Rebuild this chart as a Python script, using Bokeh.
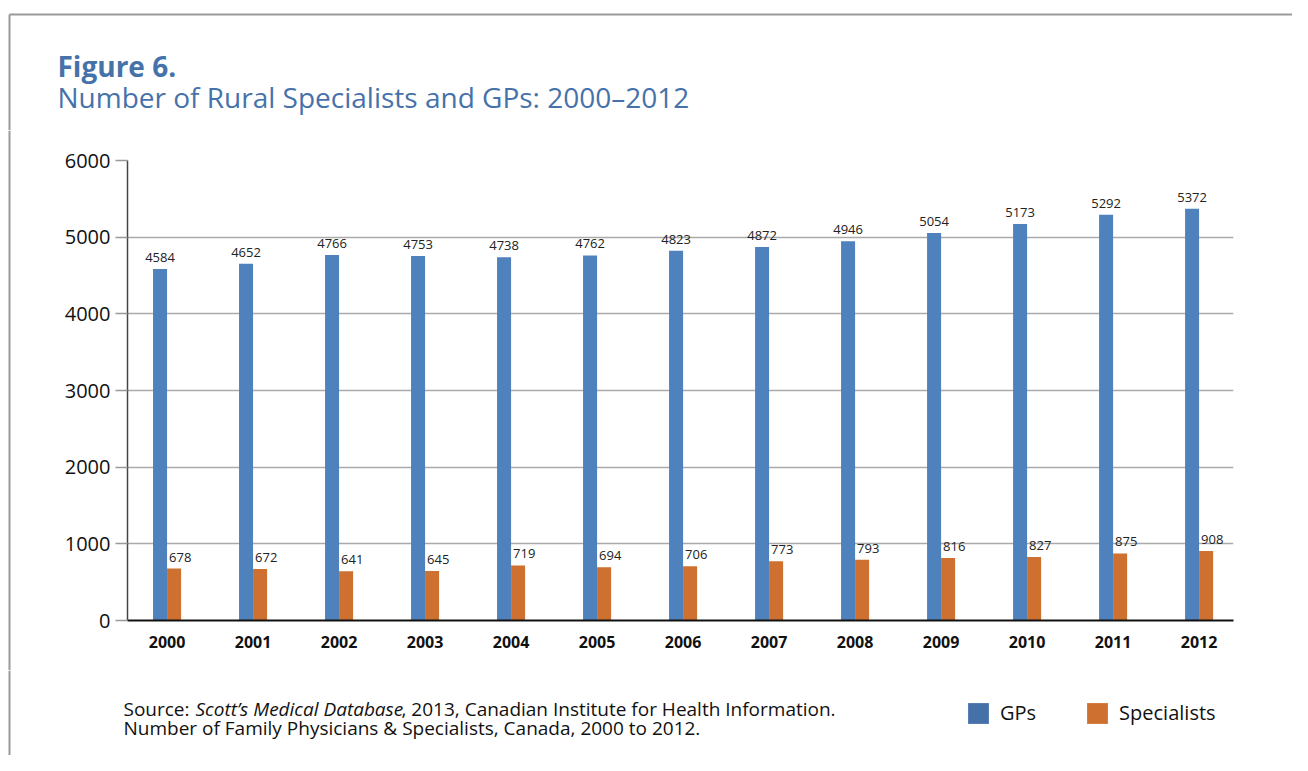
from bokeh.plotting import figure
from bokeh.models import ColumnDataSource, Range1d, FixedTicker, Label, Legend, LegendItem
from bokeh.layouts import column, row
from bokeh.transform import dodge
from bokeh.embed import file_html
from bokeh.resources import INLINE
from bokeh.core.properties import value

# ---- data ----
years = ["2000", "2001", "2002", "2003", "2004", "2005", "2006",
         "2007", "2008", "2009", "2010", "2011", "2012"]
gps = [4584, 4652, 4766, 4753, 4738, 4762, 4823, 4872, 4946, 5054, 5173, 5292, 5372]
specialists = [678, 672, 641, 645, 719, 694, 706, 773, 793, 816, 827, 875, 908]
y_ticks = [0, 1000, 2000, 3000, 4000, 5000, 6000]
series_names = ["GPs", "Specialists"]

FONT = "Open Sans"
BLUE = "#4f81bd"
ORANGE = "#cd7030"
LEG_BLUE = "#4571a8"
TITLE_BLUE = "#4672aa"
BORDER = "#9a9a9a"
BW = 0.163
W = 1292
H_HEAD, H_MAIN, H_FOOT = 130, 540, 85
STRIP_W = 47


def blank(width, height):
    f = figure(width=width, height=height, output_backend="svg", toolbar_location=None,
               x_range=Range1d(0, width), y_range=Range1d(height, 0),
               x_axis_type=None, y_axis_type=None,
               min_border_left=0, min_border_right=0, min_border_top=0, min_border_bottom=0)
    f.grid.visible = False
    f.outline_line_color = None
    f.background_fill_color = "white"
    f.border_fill_color = "white"
    return f


def lab(f, x, y, text, size, style="normal", color="#111111"):
    f.add_layout(Label(x=x, y=y, text=text, text_font=FONT, text_font_size=size,
                       text_font_style=style, text_color=color,
                       text_baseline="middle", text_align="left"))


# ---- header ----
head = blank(W, H_HEAD)
head.segment(x0=[9, 9], y0=[14, 14], x1=[W, 9], y1=[14, H_HEAD],
             line_color=BORDER, line_width=2)
lab(head, 57, 65, "Figure 6.", "28px", "bold", TITLE_BLUE)
lab(head, 57, 96, "Number of Rural Specialists and GPs: 2000\u20132012", "28px", "normal", TITLE_BLUE)

# ---- left strip (border) ----
strip = blank(STRIP_W, H_MAIN)
if "frame_align" in strip.properties():
    strip.frame_align = False
strip.segment(x0=[9], y0=[0], x1=[9], y1=[H_MAIN], line_color=BORDER, line_width=2)

# ---- main chart ----
idx = list(range(len(years)))
src = ColumnDataSource(dict(
    x=idx, year=years, gps=gps, sp=specialists,
    gps_lbl=[str(v) for v in gps], sp_lbl=[str(v) for v in specialists],
))

p = figure(width=W - STRIP_W, height=H_MAIN, output_backend="svg", toolbar_location=None,
           x_range=Range1d(-0.46, 12.4), y_range=Range1d(0, 6000),
           min_border_left=80, min_border_right=59,
           min_border_top=30, min_border_bottom=50)
p.outline_line_color = None
p.background_fill_color = "white"
p.border_fill_color = "white"

p.vbar(x=dodge("x", -BW / 2), top="gps", width=BW, source=src,
       fill_color=BLUE, line_color=None)
p.vbar(x=dodge("x", BW / 2), top="sp", width=BW, source=src,
       fill_color=ORANGE, line_color=None)

p.text(x=dodge("x", -BW / 2), y="gps", text="gps_lbl", source=src,
       text_align="center", text_baseline="bottom", y_offset=-7,
       text_font=value(FONT), text_font_size="13px", text_color="#222222")
p.text(x="x", y="sp", text="sp_lbl", source=src,
       text_align="left", text_baseline="bottom", x_offset=2, y_offset=-7,
       text_font=value(FONT), text_font_size="13px", text_color="#222222")

xa = p.xaxis[0]
xa.ticker = FixedTicker(ticks=idx)
xa.major_label_overrides = {i: y for i, y in enumerate(years)}
xa.major_label_text_font = FONT
xa.major_label_text_font_size = "16px"
xa.major_label_text_font_style = "bold"
xa.major_label_text_color = "#111111"
xa.major_tick_line_color = None
xa.minor_tick_line_color = None
xa.major_tick_out = 0
xa.major_tick_in = 0
xa.major_label_standoff = 15
xa.axis_line_color = "#111111"
xa.axis_line_width = 2

ya = p.yaxis[0]
ya.ticker = FixedTicker(ticks=y_ticks)
ya.major_label_text_font = FONT
ya.major_label_text_font_size = "20px"
ya.major_label_text_color = "#111111"
ya.major_tick_out = 12
ya.major_tick_in = 0
ya.major_tick_line_color = "#999999"
ya.major_tick_line_width = 1.5
ya.minor_tick_line_color = None
ya.major_label_standoff = 5
ya.axis_line_color = "#444444"
ya.axis_line_width = 1.5

p.xgrid.visible = False
p.ygrid.grid_line_color = "#aaaaaa"
p.ygrid.grid_line_width = 1.3

# ---- footer: source + legend ----
foot = blank(W, H_FOOT)
foot.segment(x0=[9], y0=[0], x1=[9], y1=[H_FOOT], line_color=BORDER, line_width=2)
lab(foot, 123, 38, "Source:", "19px")
lab(foot, 195, 38, "Scott\u2019s Medical Database", "19px", "italic")
lab(foot, 401, 38, ", 2013, Canadian Institute for Health Information.", "19px")
lab(foot, 123, 57, "Number of Family Physicians & Specialists, Canada, 2000 to 2012.", "19px")

r_gp = foot.vbar(x=[-100], top=[0], width=1, fill_color=LEG_BLUE, line_color=None)
r_sp = foot.vbar(x=[-100], top=[0], width=1, fill_color=ORANGE, line_color=None)
lg = Legend(items=[LegendItem(label=series_names[0], renderers=[r_gp]),
                   LegendItem(label=series_names[1], renderers=[r_sp])],
            location=(965, 29), orientation="horizontal",
            glyph_width=26, glyph_height=26, label_height=26,
            padding=0, margin=0, spacing=48, label_standoff=9,
            background_fill_alpha=0, border_line_color=None,
            label_text_font=FONT, label_text_font_size="20px",
            label_text_color="#111111")
foot.add_layout(lg)

layout = column(head, row(strip, p, spacing=0), foot, spacing=0)
open("out.html", "w").write(file_html(layout, INLINE))
